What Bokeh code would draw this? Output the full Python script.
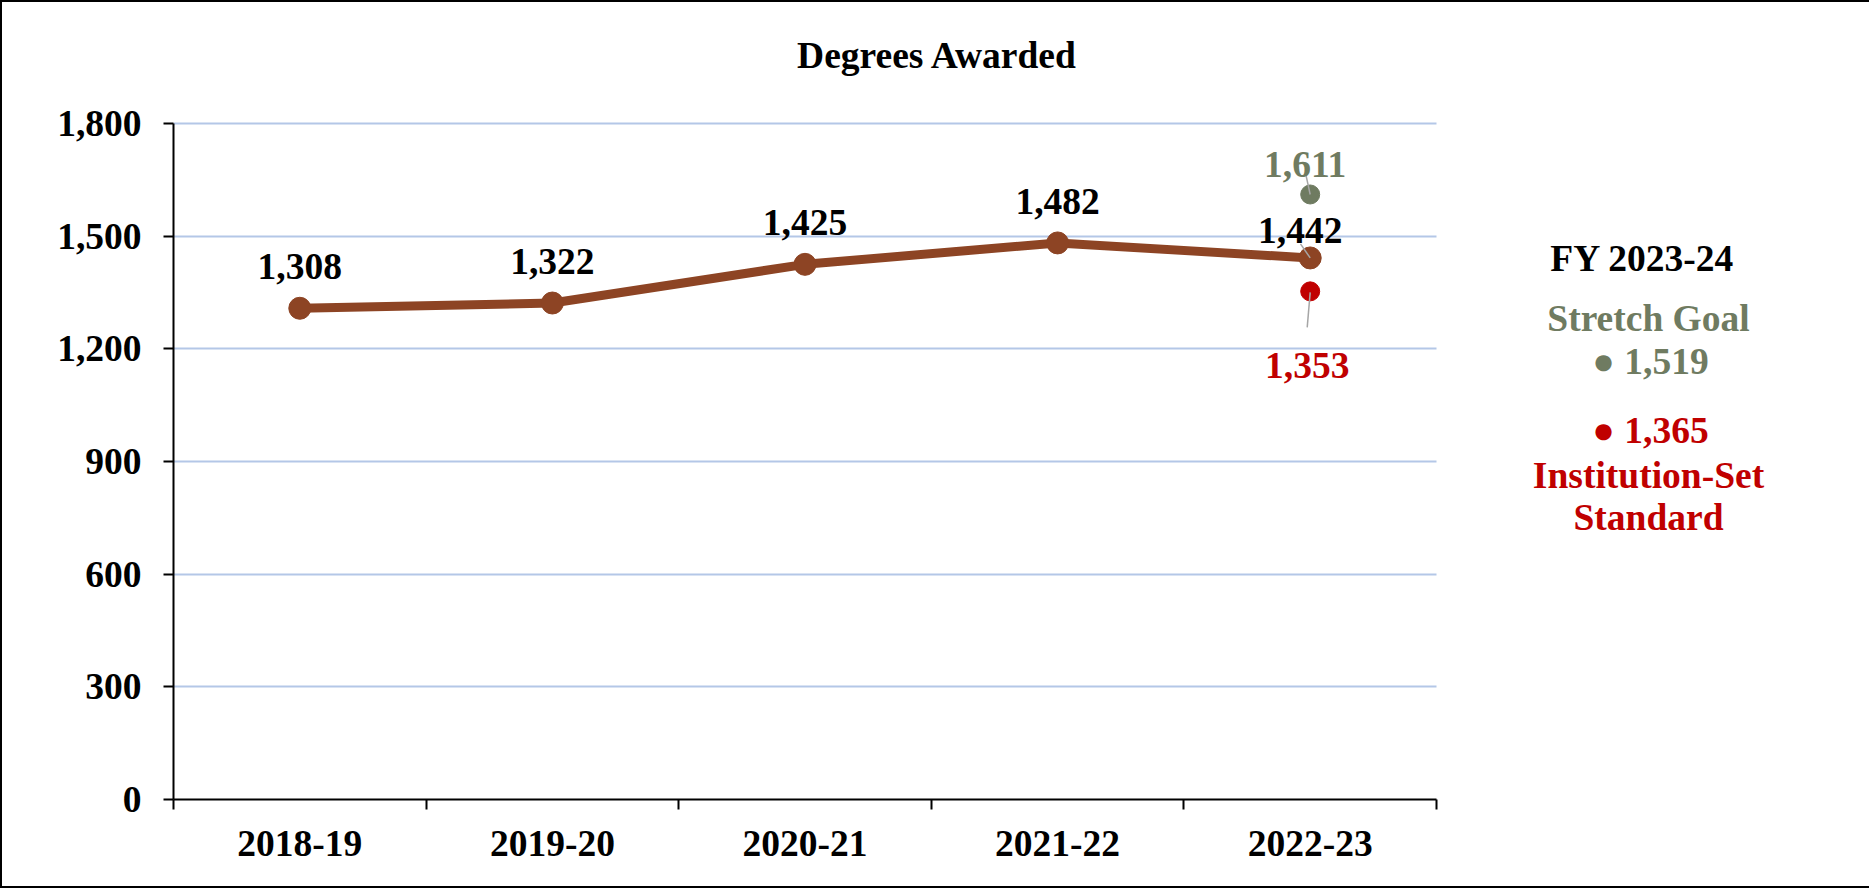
from bokeh.plotting import figure
from bokeh.models import (Range1d, FixedTicker, NumeralTickFormatter, ColumnDataSource,
                          LabelSet, Label)
from bokeh.embed import file_html
from bokeh.resources import INLINE

# ---- data ----
years = ["2018-19", "2019-20", "2020-21", "2021-22", "2022-23"]
degrees = [1308, 1322, 1425, 1482, 1442]
stretch_goal_2022_23 = [1611]
standard_2022_23 = [1353]
fy_next = "FY 2023-24"
stretch_goal_next = 1519
standard_next = 1365
y_ticks = [0, 300, 600, 900, 1200, 1500, 1800]
title_text = "Degrees Awarded"

# ---- layout (pixels) ----
W, H = 1869, 888
BORDER = 2
AX_LEFT = 173        # page x of the value axis
AX_RIGHT = 1436      # page x of the end of the category axis
AX_BOTTOM = 799      # page y of the zero line
AX_TOP = 123         # page y of the top tick
LEFT = AX_LEFT - BORDER
BOTTOM = H - (AX_BOTTOM - BORDER)
YMAX = y_ticks[-1]
n = len(years)
UX = (AX_RIGHT - AX_LEFT) / n
UY = (AX_BOTTOM - AX_TOP) / YMAX
FW = W - LEFT
FH = H - BOTTOM


def dx(px):  # pixel distance -> data x
    return px / UX


def dy(px):  # pixel distance (upward) -> data y
    return px / UY


def px_x(sx):  # page x -> data x
    return (sx - AX_LEFT) / UX


def px_y(sy):  # page y -> data y
    return (AX_BOTTOM - sy) / UY


FONT = "Liberation Serif"
FSIZE = "37.5px"
BROWN = "#8D4424"
GREEN = "#6F7B61"
RED = "#C00000"
GRID = "#B4C7E7"
LEADER = "#A6A6A6"

xs = [i + 0.5 for i in range(n)]
last_x = xs[-1]

p = figure(width=W, height=H, x_range=Range1d(0, FW / UX), y_range=Range1d(0, FH / UY),
           output_backend="svg", toolbar_location=None, title=None,
           min_border_left=LEFT, min_border_right=0,
           min_border_top=0, min_border_bottom=BOTTOM)
p.outline_line_color = None
p.styles = {"border-left": "2px solid black", "border-top": "2px solid black",
            "border-bottom": "2px solid black"}

# y axis
p.yaxis.bounds = (0, YMAX)
p.yaxis.ticker = FixedTicker(ticks=y_ticks)
p.yaxis.formatter = NumeralTickFormatter(format="0,0")
p.yaxis.major_tick_in = 0
p.yaxis.major_tick_out = 10
p.yaxis.minor_tick_line_color = None
p.yaxis.axis_line_width = 2
p.yaxis.major_tick_line_width = 2
p.yaxis.major_label_standoff = 22
p.yaxis.major_label_text_font = FONT
p.yaxis.major_label_text_font_style = "bold"
p.yaxis.major_label_text_font_size = FSIZE
p.yaxis.major_label_text_color = "black"

# x axis: labels at category centres, ticks at boundaries
p.xaxis.bounds = (0, n)
p.xaxis.ticker = FixedTicker(ticks=xs, minor_ticks=list(range(n + 1)))
p.xaxis.major_label_overrides = {x: y for x, y in zip(xs, years)}
p.xaxis.major_tick_in = 0
p.xaxis.major_tick_out = 0
p.xaxis.minor_tick_in = 0
p.xaxis.minor_tick_out = 10
p.xaxis.minor_tick_line_width = 2
p.xaxis.axis_line_width = 2
p.xaxis.major_label_standoff = 21
p.xaxis.major_label_text_font = FONT
p.xaxis.major_label_text_font_style = "bold"
p.xaxis.major_label_text_font_size = FSIZE
p.xaxis.major_label_text_color = "black"

p.xgrid.grid_line_color = None
p.ygrid.grid_line_color = GRID
p.ygrid.grid_line_width = 2
p.ygrid.cross_bounds = (0, n)

# main series
src = ColumnDataSource(dict(x=xs, y=degrees, label=[f"{v:,}" for v in degrees]))
p.line("x", "y", source=src, line_color=BROWN, line_width=9)
p.scatter("x", "y", source=src, size=22, fill_color=BROWN, line_color=BROWN)

# comparison points for 2022-23
p.scatter([last_x], stretch_goal_2022_23, size=19, fill_color=GREEN, line_color=GREEN)
p.scatter([last_x], standard_2022_23, size=19, fill_color=RED, line_color=RED)

# leader lines
p.segment(x0=[last_x - dx(9.7)], y0=[degrees[-1] + dy(14.1)], x1=[last_x], y1=[degrees[-1]],
          line_color=LEADER, line_width=1.5)
p.segment(x0=[last_x - dx(4)], y0=[stretch_goal_2022_23[0] + dy(18.4)], x1=[last_x],
          y1=[stretch_goal_2022_23[0]], line_color=LEADER, line_width=1.5)
p.segment(x0=[last_x], y0=[standard_2022_23[0] - dy(1)], x1=[last_x - dx(3)],
          y1=[standard_2022_23[0] - dy(36)], line_color=LEADER, line_width=1.5)

common = dict(text_font=FONT, text_font_style="bold", text_font_size=FSIZE,
              text_align="center", text_baseline="alphabetic")

src_first = ColumnDataSource(dict(x=xs[:-1], y=degrees[:-1],
                                  label=[f"{v:,}" for v in degrees[:-1]]))
p.add_layout(LabelSet(x="x", y="y", text="label", source=src_first, y_offset=29,
                      text_color="black", **common))
p.add_layout(Label(x=last_x, y=degrees[-1], text=f"{degrees[-1]:,}", x_offset=-10,
                   y_offset=27, text_color="black", **common))
p.add_layout(Label(x=last_x, y=stretch_goal_2022_23[0], text=f"{stretch_goal_2022_23[0]:,}",
                   x_offset=-5, y_offset=30, text_color=GREEN, **common))
p.add_layout(Label(x=last_x, y=standard_2022_23[0], text=f"{standard_2022_23[0]:,}",
                   x_offset=-3, y_offset=-74, text_color=RED, **common))

# title
p.add_layout(Label(x=px_x(937), y=px_y(55), text=title_text, text_color="black", **common))

# side annotation
p.add_layout(Label(x=px_x(1642), y=px_y(258), text=fy_next, text_color="black", **common))
p.add_layout(Label(x=px_x(1648), y=px_y(318), text="Stretch Goal", text_color=GREEN, **common))
p.add_layout(Label(x=px_x(1650), y=px_y(361), text=f"\u25cf {stretch_goal_next:,}",
                   text_color=GREEN, **common))
p.add_layout(Label(x=px_x(1650), y=px_y(430), text=f"\u25cf {standard_next:,}",
                   text_color=RED, **common))
p.add_layout(Label(x=px_x(1648), y=px_y(475), text="Institution-Set", text_color=RED, **common))
p.add_layout(Label(x=px_x(1648), y=px_y(517), text="Standard", text_color=RED, **common))

open("out.html", "w").write(file_html(p, INLINE))
